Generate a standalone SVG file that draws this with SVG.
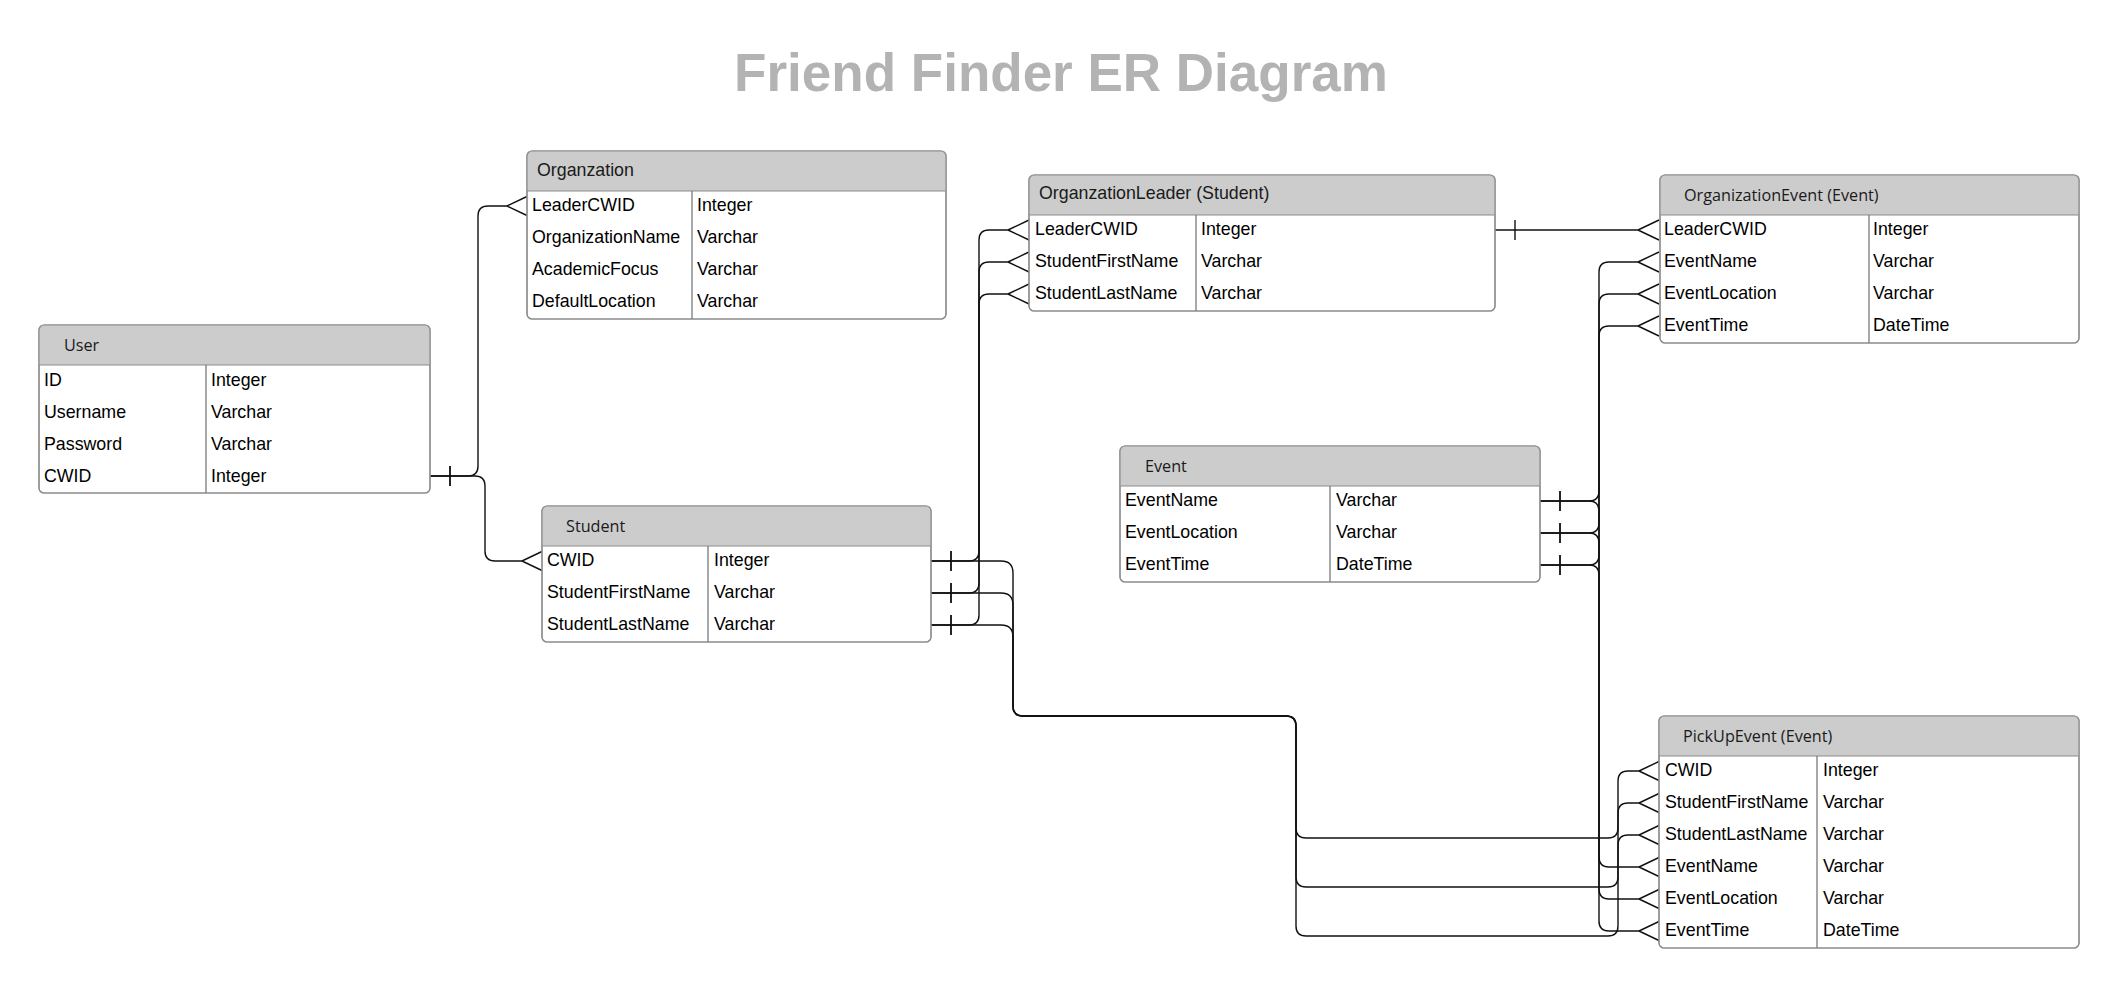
<svg xmlns="http://www.w3.org/2000/svg" width="2120" height="988" viewBox="0 0 2120 988">
<style>
.bg{fill:#ffffff}
.box{fill:#ffffff;stroke:#8c8c8c;stroke-width:1.2}
.outline{fill:none;stroke:#8c8c8c;stroke-width:1.2}
.hdr{fill:#cccccc}
.sep{stroke:#8c8c8c;stroke-width:1.2}
.div{stroke:#6e6e6e;stroke-width:1.2}
.t{font-family:"Liberation Sans",Arial,sans-serif;font-size:17.8px;fill:#000000}
.h1{font-family:"Liberation Sans",Arial,sans-serif;font-size:17.8px;fill:#1a1a1a}
.h2{font-family:"Open Sans","Noto Sans",sans-serif;font-size:16.2px;fill:#1a1a1a}
.title{font-family:"Liberation Sans",Arial,sans-serif;font-size:53px;font-weight:bold;fill:#b3b3b3}
.c{fill:none;stroke:#111111;stroke-width:1.4;marker-end:url(#many)}
.c1{marker-start:url(#one)}
</style>
<defs>
<marker id="many" markerUnits="userSpaceOnUse" viewBox="0 0 22 24" markerWidth="22" markerHeight="24" refX="0" refY="12" orient="auto" overflow="visible">
<path d="M0,12 L21,2 M0,12 L21,22" fill="none" stroke="#111111" stroke-width="1.4"/>
</marker>
<marker id="one" markerUnits="userSpaceOnUse" viewBox="0 0 30 24" markerWidth="30" markerHeight="24" refX="0" refY="12" orient="auto" overflow="visible">
<path d="M20,2 V22" fill="none" stroke="#111111" stroke-width="1.4"/>
</marker>
</defs>
<rect class="bg" x="0" y="0" width="2120" height="988"/>
<text class="title" x="1061" y="91" text-anchor="middle">Friend Finder ER Diagram</text>

<g id="connectors">
<!-- User.CWID -> Organzation.LeaderCWID -->
<path class="c c1" d="M430,476 H468 Q478,476 478,466 V216 Q478,206 488,206 H507"/>
<!-- User.CWID -> Student.CWID -->
<path class="c c1" d="M430,476 H475 Q485,476 485,486 V551 Q485,561 495,561 H522"/>
<!-- Student -> OrganzationLeader -->
<path class="c c1" d="M931,561 H969 Q979,561 979,551 V240 Q979,230 989,230 H1008"/>
<path class="c c1" d="M931,593 H969 Q979,593 979,583 V272 Q979,262 989,262 H1008"/>
<path class="c c1" d="M931,625 H969 Q979,625 979,615 V304 Q979,294 989,294 H1008"/>
<!-- Student -> PickUpEvent -->
<path class="c c1" d="M931,561 H1001 Q1013,561 1013,573 V706 Q1013,716 1023,716 H1286 Q1296,716 1296,726 V828 Q1296,838 1306,838 H1608 Q1618,838 1618,828 V781 Q1618,771 1628,771 H1639"/>
<path class="c c1" d="M931,593 H1001 Q1013,593 1013,605 V706 Q1013,716 1023,716 H1286 Q1296,716 1296,726 V877 Q1296,887 1306,887 H1608 Q1618,887 1618,877 V813 Q1618,803 1628,803 H1639"/>
<path class="c c1" d="M931,625 H1001 Q1013,625 1013,637 V706 Q1013,716 1023,716 H1286 Q1296,716 1296,726 V926 Q1296,936 1306,936 H1608 Q1618,936 1618,926 V845 Q1618,835 1628,835 H1639"/>
<!-- OrganzationLeader.LeaderCWID -> OrganizationEvent.LeaderCWID -->
<path class="c c1" d="M1495,230 H1638"/>
<!-- Event -> OrganizationEvent -->
<path class="c c1" d="M1540,501 H1589 Q1599,501 1599,491 V272 Q1599,262 1609,262 H1638"/>
<path class="c c1" d="M1540,533 H1589 Q1599,533 1599,523 V304 Q1599,294 1609,294 H1638"/>
<path class="c c1" d="M1540,565 H1589 Q1599,565 1599,555 V336 Q1599,326 1609,326 H1638"/>
<!-- Event -> PickUpEvent -->
<path class="c c1" d="M1540,501 H1589 Q1599,501 1599,511 V857 Q1599,867 1609,867 H1639"/>
<path class="c c1" d="M1540,533 H1589 Q1599,533 1599,543 V889 Q1599,899 1609,899 H1639"/>
<path class="c c1" d="M1540,565 H1589 Q1599,565 1599,575 V921 Q1599,931 1609,931 H1639"/>
</g>

<g id="user">
<rect class="box" x="39" y="325" width="391" height="168" rx="5"/>
<path class="hdr" d="M39,365 V330 Q39,325 44,325 H425 Q430,325 430,330 V365 Z"/>
<line class="sep" x1="39" y1="365" x2="430" y2="365"/>
<line class="div" x1="206" y1="365" x2="206" y2="493"/>
<rect class="outline" x="39" y="325" width="391" height="168" rx="5"/>
<text class="h2" x="64" y="351">User</text>
<text class="t" x="44" y="386">ID</text><text class="t" x="211" y="386">Integer</text>
<text class="t" x="44" y="418">Username</text><text class="t" x="211" y="418">Varchar</text>
<text class="t" x="44" y="450">Password</text><text class="t" x="211" y="450">Varchar</text>
<text class="t" x="44" y="482">CWID</text><text class="t" x="211" y="482">Integer</text>
</g>

<g id="organzation">
<rect class="box" x="527" y="151" width="419" height="168" rx="5"/>
<path class="hdr" d="M527,191 V156 Q527,151 532,151 H941 Q946,151 946,156 V191 Z"/>
<line class="sep" x1="527" y1="191" x2="946" y2="191"/>
<line class="div" x1="692" y1="191" x2="692" y2="319"/>
<rect class="outline" x="527" y="151" width="419" height="168" rx="5"/>
<text class="h1" x="537" y="176">Organzation</text>
<text class="t" x="532" y="211">LeaderCWID</text><text class="t" x="697" y="211">Integer</text>
<text class="t" x="532" y="243">OrganizationName</text><text class="t" x="697" y="243">Varchar</text>
<text class="t" x="532" y="275">AcademicFocus</text><text class="t" x="697" y="275">Varchar</text>
<text class="t" x="532" y="307">DefaultLocation</text><text class="t" x="697" y="307">Varchar</text>
</g>

<g id="student">
<rect class="box" x="542" y="506" width="389" height="136" rx="5"/>
<path class="hdr" d="M542,546 V511 Q542,506 547,506 H926 Q931,506 931,511 V546 Z"/>
<line class="sep" x1="542" y1="546" x2="931" y2="546"/>
<line class="div" x1="708" y1="546" x2="708" y2="642"/>
<rect class="outline" x="542" y="506" width="389" height="136" rx="5"/>
<text class="h2" x="566" y="532">Student</text>
<text class="t" x="547" y="566">CWID</text><text class="t" x="714" y="566">Integer</text>
<text class="t" x="547" y="598">StudentFirstName</text><text class="t" x="714" y="598">Varchar</text>
<text class="t" x="547" y="630">StudentLastName</text><text class="t" x="714" y="630">Varchar</text>
</g>

<g id="organzation-leader">
<rect class="box" x="1029" y="175" width="466" height="136" rx="5"/>
<path class="hdr" d="M1029,215 V180 Q1029,175 1034,175 H1490 Q1495,175 1495,180 V215 Z"/>
<line class="sep" x1="1029" y1="215" x2="1495" y2="215"/>
<line class="div" x1="1196" y1="215" x2="1196" y2="311"/>
<rect class="outline" x="1029" y="175" width="466" height="136" rx="5"/>
<text class="h1" x="1039" y="199">OrganzationLeader (Student)</text>
<text class="t" x="1035" y="235">LeaderCWID</text><text class="t" x="1201" y="235">Integer</text>
<text class="t" x="1035" y="267">StudentFirstName</text><text class="t" x="1201" y="267">Varchar</text>
<text class="t" x="1035" y="299">StudentLastName</text><text class="t" x="1201" y="299">Varchar</text>
</g>

<g id="organization-event">
<rect class="box" x="1660" y="175" width="419" height="168" rx="5"/>
<path class="hdr" d="M1660,215 V180 Q1660,175 1665,175 H2074 Q2079,175 2079,180 V215 Z"/>
<line class="sep" x1="1660" y1="215" x2="2079" y2="215"/>
<line class="div" x1="1869" y1="215" x2="1869" y2="343"/>
<rect class="outline" x="1660" y="175" width="419" height="168" rx="5"/>
<text class="h2" x="1684" y="201">OrganizationEvent (Event)</text>
<text class="t" x="1664" y="235">LeaderCWID</text><text class="t" x="1873" y="235">Integer</text>
<text class="t" x="1664" y="267">EventName</text><text class="t" x="1873" y="267">Varchar</text>
<text class="t" x="1664" y="299">EventLocation</text><text class="t" x="1873" y="299">Varchar</text>
<text class="t" x="1664" y="331">EventTime</text><text class="t" x="1873" y="331">DateTime</text>
</g>

<g id="event">
<rect class="box" x="1120" y="446" width="420" height="136" rx="5"/>
<path class="hdr" d="M1120,486 V451 Q1120,446 1125,446 H1535 Q1540,446 1540,451 V486 Z"/>
<line class="sep" x1="1120" y1="486" x2="1540" y2="486"/>
<line class="div" x1="1330" y1="486" x2="1330" y2="582"/>
<rect class="outline" x="1120" y="446" width="420" height="136" rx="5"/>
<text class="h2" x="1145" y="472">Event</text>
<text class="t" x="1125" y="506">EventName</text><text class="t" x="1336" y="506">Varchar</text>
<text class="t" x="1125" y="538">EventLocation</text><text class="t" x="1336" y="538">Varchar</text>
<text class="t" x="1125" y="570">EventTime</text><text class="t" x="1336" y="570">DateTime</text>
</g>

<g id="pickup-event">
<rect class="box" x="1659" y="716" width="420" height="232" rx="5"/>
<path class="hdr" d="M1659,756 V721 Q1659,716 1664,716 H2074 Q2079,716 2079,721 V756 Z"/>
<line class="sep" x1="1659" y1="756" x2="2079" y2="756"/>
<line class="div" x1="1817" y1="756" x2="1817" y2="948"/>
<rect class="outline" x="1659" y="716" width="420" height="232" rx="5"/>
<text class="h2" x="1683" y="742">PickUpEvent (Event)</text>
<text class="t" x="1665" y="776">CWID</text><text class="t" x="1823" y="776">Integer</text>
<text class="t" x="1665" y="808">StudentFirstName</text><text class="t" x="1823" y="808">Varchar</text>
<text class="t" x="1665" y="840">StudentLastName</text><text class="t" x="1823" y="840">Varchar</text>
<text class="t" x="1665" y="872">EventName</text><text class="t" x="1823" y="872">Varchar</text>
<text class="t" x="1665" y="904">EventLocation</text><text class="t" x="1823" y="904">Varchar</text>
<text class="t" x="1665" y="936">EventTime</text><text class="t" x="1823" y="936">DateTime</text>
</g>
</svg>
